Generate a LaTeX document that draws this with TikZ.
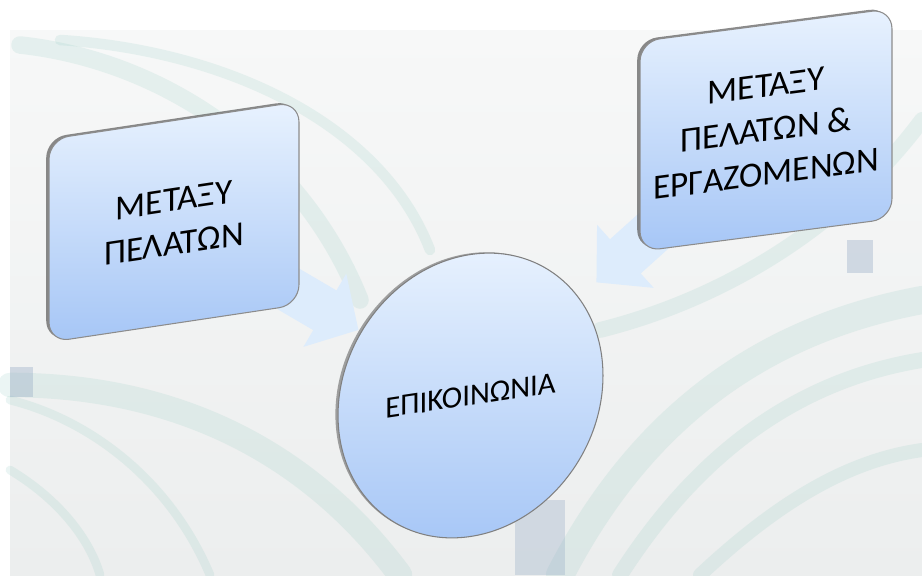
\documentclass[tikz,border=0pt]{standalone}
\usepackage{fontspec}
\setmainfont{Carlito}
\usetikzlibrary{arrows.meta}
\usetikzlibrary{shapes.geometric}
\usetikzlibrary{shadows}
\definecolor{boxtop}{HTML}{E8F2FE}
\definecolor{boxbot}{HTML}{A6C6F6}
\definecolor{arrowfill}{HTML}{DDECFC}
\definecolor{fibrecol}{HTML}{9CCFC6}
\definecolor{bgtop}{HTML}{F7F8F8}
\definecolor{bgbot}{HTML}{ECEEEE}
\definecolor{chip}{HTML}{8FA6C2}
\pgfdeclarelayer{back}
\pgfdeclarelayer{links}
\pgfsetlayers{back,links,main}

\begin{document}
\begin{tikzpicture}
      [x=0.02cm, y=-0.02cm,
        panel/.style={rectangle, rounded corners=0.4cm, draw=black!45, line width=0.6pt,
          top color=boxtop, bottom color=boxbot, align=center, inner sep=0pt,
          font=\fontsize{20}{25}\selectfont,
          drop shadow={shadow xshift=-1.6pt, shadow yshift=0.8pt, fill=black!65, opacity=0.7}},
        hub/.style={ellipse, minimum width=5.3cm, minimum height=5.64cm, inner sep=0pt,
          draw=black!50, line width=0.6pt, top color=boxtop, bottom color=boxbot,
          font=\fontsize{17.5}{20}\selectfont,
          drop shadow={shadow xshift=-1.5pt, shadow yshift=0.5pt, fill=black!60, opacity=0.6}},
        feed/.style={line width=0.92cm, arrowfill, -{Triangle[width=1.65cm, length=0.78cm]}},
        fibre/.style={fibrecol, opacity=0.2, line cap=round}]
  \useasboundingbox (0,0) rectangle (922,575);

  \node[panel, yslant=0.15, minimum width=5cm, minimum height=4.06cm] (pelates) at (174,222)
    {ΜΕΤΑΞΥ\\ΠΕΛΑΤΩΝ};
  \node[panel, yslant=0.13, minimum width=5.04cm, minimum height=4.2cm] (ergazomenoi) at (766,130)
    {ΜΕΤΑΞΥ\\ΠΕΛΑΤΩΝ \&\\ΕΡΓΑΖΟΜΕΝΩΝ};
  \node[hub, yslant=0.15] (epikoinonia) at (470.5,395.5) {ΕΠΙΚΟΙΝΩΝΙΑ};

  \begin{pgfonlayer}{links}
    \draw[feed, shorten >=0.06cm] (pelates.center) -- (epikoinonia);
    \draw[feed, shorten >=0.46cm] (ergazomenoi.center) -- (epikoinonia);
  \end{pgfonlayer}

  % faded photo behind the diagram
  \begin{pgfonlayer}{back}
    \shade[top color=bgtop, bottom color=bgbot] (10,30) rectangle (922,575);
    \draw[fibre, line width=10pt] (20,45) .. controls (160,60) and (300,150) .. (360,300);
    \draw[fibre, line width=6pt] (60,40) .. controls (220,50) and (380,120) .. (430,250);
    \draw[fibre, line width=14pt] (10,385) .. controls (160,385) and (300,440) .. (400,575);
    \draw[fibre, line width=5pt] (10,400) .. controls (90,420) and (170,480) .. (210,575);
    \draw[fibre, line width=5pt] (10,470) .. controls (60,500) and (90,540) .. (100,575);
    \draw[fibre, line width=16pt] (560,575) .. controls (640,420) and (760,330) .. (922,300);
    \draw[fibre, line width=9pt] (620,575) .. controls (700,450) and (800,380) .. (922,360);
    \draw[fibre, line width=9pt] (600,330) .. controls (720,300) and (840,230) .. (922,120);
    \draw[fibre, line width=8pt] (700,575) .. controls (780,500) and (850,460) .. (922,450);
    \fill[chip, opacity=0.35] (847,240) rectangle (873,273);
    \fill[chip, opacity=0.35] (10,367) rectangle (33,397);
    \fill[chip, opacity=0.3] (515,500) rectangle (565,575);
  \end{pgfonlayer}
\end{tikzpicture}
\end{document}
